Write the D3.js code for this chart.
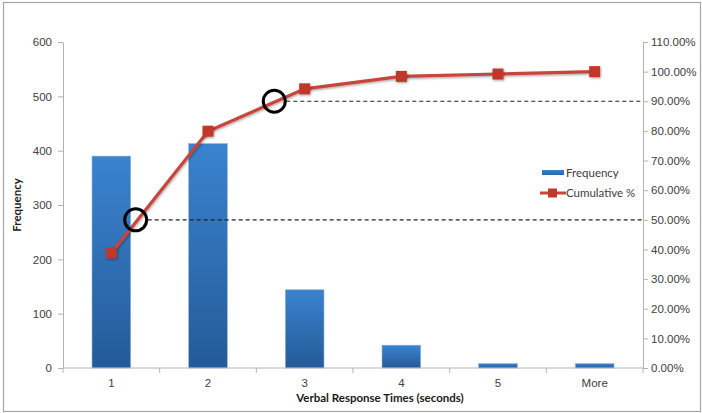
<!DOCTYPE html>
<html>
<head>
<meta charset="utf-8">
<script src="https://cdn.jsdelivr.net/npm/d3@7"></script>
<style>
  html, body { margin: 0; padding: 0; background: #fff; }
  svg { display: block; font-family: Lato, "Open Sans", sans-serif; }
</style>
</head>
<body>
<svg id="chart" width="702" height="413"></svg>
<script>
// Histogram of verbal response times with cumulative percentage (Pareto style)
const categories = ["1", "2", "3", "4", "5", "More"];
const frequency = [390, 413, 144, 42, 8, 8];
const cumulativePct = [38.8, 79.9, 94.2, 98.4, 99.2, 100];
const leftTicks = [0, 100, 200, 300, 400, 500, 600];
const rightTicks = [0, 10, 20, 30, 40, 50, 60, 70, 80, 90, 100, 110];
const thresholds = [50, 90];

const svg = d3.select("#chart");
const margin = { left: 63, right: 59, top: 42, bottom: 45 };
const W = 702, H = 413;
const x0 = margin.left, x1 = W - margin.right;
const y0 = H - margin.bottom, y1 = margin.top;

// outer frame
svg.append("rect")
  .attr("x", 3.5).attr("y", 2.5).attr("width", 697).attr("height", 409)
  .attr("fill", "#fff").attr("stroke", "#a6a6a6").attr("stroke-width", 1.2);

const x = d3.scaleBand().domain(categories).range([x0, x1]).paddingInner(0.6).paddingOuter(0.3);
const xb = d3.scaleBand().domain(categories).range([x0, x1]);
const yL = d3.scaleLinear().domain([0, 600]).range([y0, y1]);
const yR = d3.scaleLinear().domain([0, 110]).range([y0, y1]);

// bar gradient
const defs = svg.append("defs");
const grad = defs.append("linearGradient").attr("id", "barGrad")
  .attr("x1", 0).attr("y1", 0).attr("x2", 0).attr("y2", 1);
grad.append("stop").attr("offset", "0%").attr("stop-color", "#3a83cf");
grad.append("stop").attr("offset", "100%").attr("stop-color", "#245b98");
const lgrad = defs.append("linearGradient").attr("id", "legGrad")
  .attr("x1", 0).attr("y1", 0).attr("x2", 0).attr("y2", 1);
lgrad.append("stop").attr("offset", "0%").attr("stop-color", "#3a83cf");
lgrad.append("stop").attr("offset", "100%").attr("stop-color", "#2a66a8");
const shadow = defs.append("filter").attr("id", "shadow")
  .attr("x", "-50%").attr("y", "-50%").attr("width", "200%").attr("height", "200%");
shadow.append("feDropShadow").attr("dx", 0.8).attr("dy", 1.2).attr("stdDeviation", 0.9)
  .attr("flood-color", "#000").attr("flood-opacity", 0.35);

// bars
svg.append("g").selectAll("rect").data(frequency).join("rect")
  .attr("x", (d, i) => x(categories[i]))
  .attr("y", d => yL(d))
  .attr("width", x.bandwidth())
  .attr("height", d => y0 - yL(d))
  .attr("fill", "url(#barGrad)")
  .attr("stroke", "#8fb4dc").attr("stroke-width", 0.6);

// axes
const axisColor = "#b3b3b3";
const textColor = "#404040";
function styleAxis(g) {
  g.selectAll(".domain").attr("stroke", axisColor);
  g.selectAll(".tick line").attr("stroke", axisColor);
  g.selectAll(".tick text").attr("fill", textColor).attr("font-size", 11.5);
}
const gL = svg.append("g").attr("transform", `translate(${x0},0)`)
  .call(d3.axisLeft(yL).tickValues(leftTicks).tickSize(5).tickSizeOuter(0).tickPadding(6));
styleAxis(gL);
const gR = svg.append("g").attr("transform", `translate(${x1},0)`)
  .call(d3.axisRight(yR).tickValues(rightTicks).tickSize(5).tickSizeOuter(0).tickPadding(3)
    .tickFormat(d => d.toFixed(2) + "%"));
styleAxis(gR);
const gX = svg.append("g").attr("transform", `translate(0,${y0})`)
  .call(d3.axisBottom(xb).tickSize(0).tickPadding(11));
styleAxis(gX);
gX.selectAll(".domain").attr("d", `M${x0},0H${x1}`);
// tick marks at category boundaries
gX.selectAll(".bound").data(d3.range(categories.length + 1)).join("line")
  .attr("x1", i => x0 + i * xb.step()).attr("x2", i => x0 + i * xb.step())
  .attr("y1", 0).attr("y2", 5).attr("stroke", axisColor);

// axis titles
svg.append("text").attr("transform", `translate(21,${(y0 + y1) / 2}) rotate(-90)`)
  .attr("text-anchor", "middle").attr("font-size", 11.5).attr("font-weight", "bold")
  .attr("fill", "#1a1a1a").text("Frequency");
svg.append("text").attr("x", 380).attr("y", 402)
  .attr("text-anchor", "middle").attr("font-size", 11.5).attr("font-weight", "bold")
  .attr("fill", "#1a1a1a").text("Verbal Response Times (seconds)");

// cumulative line
const cx = i => xb(categories[i]) + xb.bandwidth() / 2;
const lineColor = "#c9453a";
const markerColor = "#c0392b";
const line = d3.line().x((d, i) => cx(i)).y(d => yR(d));
svg.append("path").datum(cumulativePct).attr("d", line)
  .attr("fill", "none").attr("stroke", lineColor).attr("stroke-width", 3.2)
  .attr("filter", "url(#shadow)");
svg.append("g").selectAll("rect").data(cumulativePct).join("rect")
  .attr("x", (d, i) => cx(i) - 5.5).attr("y", d => yR(d) - 5.5)
  .attr("width", 11).attr("height", 11)
  .attr("fill", markerColor).attr("filter", "url(#shadow)");

// threshold markers: circle where the curve crosses each level, dashed guide to right axis
thresholds.forEach(t => {
  const i = cumulativePct.findIndex(v => v >= t);
  const a = cumulativePct[i - 1], b = cumulativePct[i];
  const px = cx(i - 1) + (t - a) / (b - a) * (cx(i) - cx(i - 1)) - 2;
  const py = yR(t);
  svg.append("line").attr("x1", px + 12).attr("x2", x1).attr("y1", py).attr("y2", py)
    .attr("stroke", "#222").attr("stroke-width", 1.2).attr("stroke-dasharray", "4,3");
  svg.append("circle").attr("cx", px).attr("cy", py).attr("r", 11)
    .attr("fill", "none").attr("stroke", "#000").attr("stroke-width", 3);
});

// legend
const lg = svg.append("g").attr("font-size", 11.5).attr("fill", textColor);
lg.append("rect").attr("x", 542).attr("y", 170).attr("width", 22).attr("height", 5)
  .attr("fill", "url(#legGrad)");
lg.append("text").attr("x", 566).attr("y", 177).text("Frequency");
lg.append("line").attr("x1", 540).attr("x2", 566).attr("y1", 193).attr("y2", 193)
  .attr("stroke", lineColor).attr("stroke-width", 3);
lg.append("rect").attr("x", 548).attr("y", 188.5).attr("width", 9).attr("height", 9)
  .attr("fill", markerColor);
lg.append("text").attr("x", 566).attr("y", 197).text("Cumulative %");
</script>
</body>
</html>
